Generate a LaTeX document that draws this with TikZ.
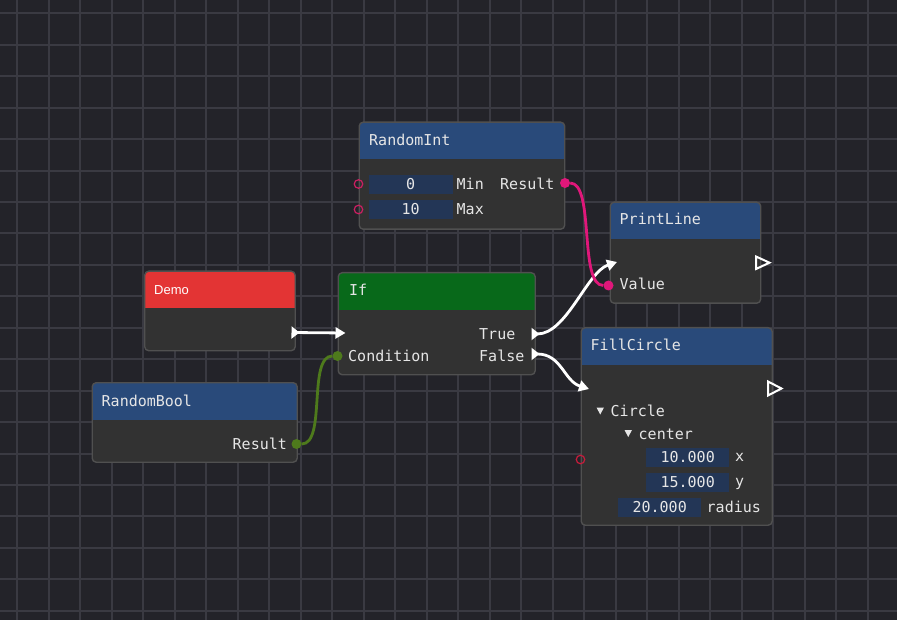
\documentclass[tikz,border=0pt]{standalone}
\usepackage{fontspec}
\setmonofont{DejaVu Sans Mono}
\newfontfamily\demofont{Liberation Sans}
\usetikzlibrary{arrows.meta}

\definecolor{canvasbg}{HTML}{232329}
\definecolor{gridgray}{HTML}{3A3A42}
\definecolor{blockbody}{HTML}{323232}
\definecolor{blockedge}{HTML}{505050}
\definecolor{hdrblue}{HTML}{294A7A}
\definecolor{hdrred}{HTML}{E33434}
\definecolor{hdrgreen}{HTML}{08691A}
\definecolor{fieldblue}{HTML}{233656}
\definecolor{labelwhite}{HTML}{E6E6E6}
\definecolor{intpink}{HTML}{E0177A}
\definecolor{ringpink}{HTML}{CC1F62}
\definecolor{ringred}{HTML}{C81C3C}
\definecolor{boolgreen}{HTML}{4E7A1C}

\begin{document}
\begin{tikzpicture}[x=1pt,y=-1pt]
\tikzset{
  gridline/.style={draw=gridgray,line width=1.2pt},
  block/.style={draw=blockedge,fill=blockbody,line width=1.4pt,rounded corners=4pt,
    anchor=north west,inner sep=0pt,
    path picture={\fill[#1,sharp corners] (path picture bounding box.north west)
      rectangle ([yshift=-37pt]path picture bounding box.north east);}},
  monofont/.style={font=\ttfamily\fontsize{15}{18}\selectfont},
  lbl/.style={monofont,text=labelwhite,inner sep=0pt,anchor=base west},
  field/.style={monofont,fill=fieldblue,text=labelwhite,inner sep=0pt,
    anchor=north west,minimum width=84pt,minimum height=19pt},
  pinring/.style={circle,draw=#1,line width=1.2pt,minimum size=8.5pt,inner sep=0pt},
  pindot/.style={circle,fill=#1,minimum size=10pt,inner sep=0pt},
  flow/.style={draw=white,line width=2.8pt,
    {Triangle[reversed,length=8pt,width=12pt]}-{Triangle[length=10pt,width=11pt]}},
  datawire/.style={draw=#1,line width=2.8pt},
  exectri/.style={draw=white,line width=2pt,line join=miter}
}
% canvas
\fill[canvasbg] (0,0) rectangle (897,620);
\useasboundingbox (0,0) rectangle (897,620);
\foreach \gx in {0,...,27} \draw[gridline] ({round(17.3+31.5*\gx)},0) -- ++(0,620);
\foreach \gy in {0,...,19} \draw[gridline] (0,{round(13.3+31.45*\gy)}) -- ++(897,0);

% blocks
\node[block=hdrblue,minimum width=205.5pt,minimum height=107pt] (n_RandomInt) at (358.5,121.5) {};
\node[block=hdrblue,minimum width=150.5pt,minimum height=101pt] (n_PrintLine) at (609.5,201.5) {};
\node[block=hdrred,minimum width=150.5pt,minimum height=79.5pt] (n_Demo) at (144,270.5) {};
\node[block=hdrgreen,minimum width=197pt,minimum height=102pt] (n_If) at (337.5,272) {};
\node[block=hdrblue,minimum width=205pt,minimum height=79.5pt] (n_RandomBool) at (91.5,382) {};
\node[block=hdrblue,minimum width=191pt,minimum height=197.5pt] (n_FillCircle) at (580.5,327) {};

% titles
\node[lbl] (t_RandomInt) at (369,145.5) {RandomInt};
\node[lbl] (t_PrintLine) at (619.5,225) {PrintLine};
\node[lbl,font=\demofont\fontsize{13}{16}\selectfont,text=white] (t_Demo) at (154,295) {Demo};
\node[lbl] (t_If) at (349,295.5) {If};
\node[lbl] (t_RandomBool) at (101.5,406.5) {RandomBool};
\node[lbl] (t_FillCircle) at (590.5,351) {FillCircle};

% RandomInt rows
\node[field] (f_Min) at (368.5,174.5) {0};
\node[field] (f_Max) at (368.5,199.5) {10};
\node[lbl] (l_Min) at (456.5,190) {Min};
\node[lbl] (l_Max) at (456.5,214.5) {Max};
\node[lbl] (l_IntResult) at (500,190) {Result};
\node[pinring=ringpink] (p_Min) at (358.5,184) {};
\node[pinring=ringpink] (p_Max) at (358.5,209.5) {};
\node[pindot=intpink] (p_IntResult) at (565,183) {};

% PrintLine rows
\node[lbl] (l_Value) at (619.5,290) {Value};
\node[pindot=intpink] (p_Value) at (608.5,285.5) {};
\draw[exectri] (756,256.5) -- (769.5,262.7) -- (756,269) -- cycle;

% If rows
\node[lbl] (l_True) at (479,339) {True};
\node[lbl] (l_False) at (479,361) {False};
\node[lbl] (l_Condition) at (348,361) {Condition};
\node[pindot=boolgreen] (p_Condition) at (337.5,356) {};

% RandomBool rows
\node[lbl] (l_BoolResult) at (232.5,449) {Result};
\node[pindot=boolgreen] (p_BoolResult) at (296.5,444) {};

% FillCircle rows
\fill[labelwhite] (596.5,407.5) -- (604,407.5) -- (600.25,414.5) -- cycle;
\node[lbl] (l_Circle) at (610.5,416.5) {Circle};
\fill[labelwhite] (624.5,430) -- (632,430) -- (628.25,437) -- cycle;
\node[lbl] (l_center) at (638.5,439) {center};
\node[field,minimum width=83pt] (f_x) at (646,447.5) {10.000};
\node[field,minimum width=83pt] (f_y) at (646,472.5) {15.000};
\node[field,minimum width=83pt] (f_radius) at (618,497.5) {20.000};
\node[lbl] (l_x) at (735,461.5) {x};
\node[lbl] (l_y) at (735,486.5) {y};
\node[lbl] (l_radius) at (706.5,512) {radius};
\node[pinring=ringred] (p_Circle) at (580.5,459.5) {};
\draw[exectri] (768,381.5) -- (781.5,388.5) -- (768,395.5) -- cycle;

% exec pins
\coordinate (p_DemoOut) at (291.5,332.5);
\coordinate (p_IfIn) at (345.5,333);
\coordinate (p_IfTrue) at (531.5,334);
\coordinate (p_IfFalse) at (531.5,354);
\coordinate (p_PrintIn) at (617,262);
\coordinate (p_FillIn) at (589,389);

% links
\draw[flow] (p_DemoOut) -- (p_IfIn);
\draw[flow] (p_IfTrue) .. controls +(35,0) and +(-30,10) .. (p_PrintIn);
\draw[flow] (p_IfFalse) .. controls +(30,0) and +(-25,-8) .. (p_FillIn);
\draw[datawire=intpink] (p_IntResult) .. controls +(30,0) and +(-30,0) .. (p_Value);
\draw[datawire=boolgreen] (p_BoolResult) .. controls +(30,0) and +(-30,0) .. (p_Condition);
\end{tikzpicture}
\end{document}
